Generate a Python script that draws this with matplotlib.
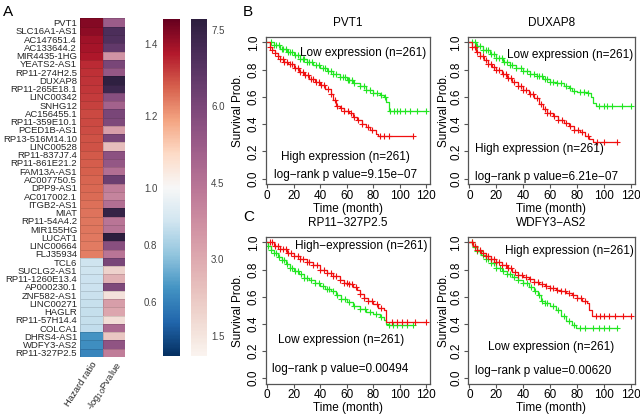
import numpy as np
import matplotlib
matplotlib.use("Agg")
import matplotlib.pyplot as plt
from matplotlib.colors import TwoSlopeNorm, Normalize
from matplotlib.cm import ScalarMappable
import seaborn as sns

plt.rcParams['font.family'] = ['Liberation Sans', 'DejaVu Sans']

# ---- panel A data ----
genes = ["PVT1", "SLC16A1-AS1", "AC147651.4", "AC133644.2", "MIR4435-1HG", "YEATS2-AS1",
         "RP11-274H2.5", "DUXAP8", "RP11-265E18.1", "LINC00342", "SNHG12", "AC156455.1",
         "RP11-359E10.1", "PCED1B-AS1", "RP13-516M14.10", "LINC00528", "RP11-837J7.4",
         "RP11-861E21.2", "FAM13A-AS1", "AC007750.5", "DPP9-AS1", "AC017002.1", "ITGB2-AS1",
         "MIAT", "RP11-54A4.2", "MIR155HG", "LUCAT1", "LINC00664", "FLJ35934", "TCL6",
         "SUCLG2-AS1", "RP11-1260E13.4", "AP000230.1", "ZNF582-AS1", "LINC00271", "HAGLR",
         "RP11-57H14.4", "COLCA1", "DHRS4-AS1", "WDFY3-AS2", "RP11-327P2.5"]
hazard_ratio = [1.43, 1.42, 1.40, 1.39, 1.38, 1.35, 1.345, 1.34, 1.335, 1.33, 1.32, 1.31,
                1.31, 1.305, 1.30, 1.30, 1.29, 1.285, 1.28, 1.275, 1.27, 1.265, 1.26,
                1.255, 1.25, 1.25, 1.248, 1.245, 1.24, 0.88, 0.88, 0.875, 0.875, 0.87,
                0.865, 0.86, 0.86, 0.855, 0.646, 0.634, 0.61]
neg_log_p = [5.2, 7.0, 6.9, 6.5, 3.6, 6.0, 5.4, 7.6, 7.3, 5.7, 5.0, 6.0, 5.9, 3.3, 6.0,
             2.5, 5.6, 5.4, 4.6, 6.3, 4.2, 4.0, 4.6, 7.5, 4.4, 4.5, 7.8, 5.7, 4.4, 6.0,
             2.0, 2.8, 5.9, 1.6, 3.3, 3.1, 1.7, 4.8, 2.3, 5.5, 4.2]
hr_ticks = [0.6, 0.8, 1.0, 1.2, 1.4]
p_ticks = [1.5, 3.0, 4.5, 6.0, 7.5]

# ---- panels B/C data: KM step knots (month, survival) and censor times ----
pvt1_low_t = [0, 5, 10, 15, 20, 25, 30, 35, 40, 45, 50, 55, 60, 65, 70, 75, 80, 85, 88, 90, 92]
pvt1_low_s = [1.0, .98, .955, .93, .905, .88, .855, .835, .81, .79, .77, .745, .725, .70, .68, .65, .63, .615, .60, .56, .50]
pvt1_low_c = [3, 5, 7, 9, 11, 12, 14, 16, 17, 19, 21, 23, 25, 27, 28, 30, 32, 34, 37, 39, 42, 44, 46,
              48, 50, 52, 55, 57, 59, 61, 62, 64, 66, 70, 73, 75, 78, 80, 83, 86, 89, 93, 96, 98,
              100, 104, 108, 113, 120]
pvt1_high_t = [0, 2, 4, 6, 8, 10, 13, 16, 20, 24, 28, 32, 36, 40, 44, 48, 50, 52, 55, 58, 62, 65, 68, 72, 75, 78, 82, 84]
pvt1_high_s = [1.0, .97, .945, .92, .90, .88, .86, .84, .81, .785, .76, .735, .71, .685, .655, .62, .58, .535, .52, .50, .48, .45, .43, .40, .38, .36, .33, .315]
pvt1_high_c = [2, 4, 6, 8, 10, 12, 13, 15, 17, 19, 21, 23, 25, 27, 29, 31, 33, 35, 37, 39, 41, 43, 46,
               48, 51, 53, 56, 58, 61, 63, 66, 69, 72, 76, 79, 85, 88, 92, 110]

duxap8_low_t = [0, 5, 10, 15, 20, 25, 30, 35, 40, 45, 50, 55, 60, 65, 70, 74, 76, 80, 88, 90, 92, 94]
duxap8_low_s = [1.0, .975, .945, .915, .885, .86, .835, .815, .79, .77, .75, .73, .71, .70, .68, .665, .64, .635, .625, .60, .555, .535]
duxap8_low_c = [2, 4, 6, 8, 10, 12, 14, 16, 18, 20, 22, 24, 26, 28, 30, 32, 35, 38, 40, 43, 45, 48,
                50, 52, 54, 56, 58, 60, 62, 65, 68, 72, 75, 78, 82, 85, 88, 96, 100, 102, 106, 113, 120]
duxap8_high_t = [0, 2, 5, 8, 11, 14, 17, 20, 24, 28, 32, 36, 40, 44, 48, 52, 55, 58, 62, 66, 70, 74, 78, 82, 86, 89, 92]
duxap8_high_s = [1.0, .97, .93, .90, .87, .845, .82, .80, .77, .74, .71, .68, .65, .62, .59, .55, .51, .48, .46, .43, .41, .385, .36, .34, .31, .29, .27]
duxap8_high_c = [2, 4, 6, 8, 10, 12, 14, 16, 18, 20, 22, 25, 27, 29, 31, 33, 36, 38, 40, 42, 45, 47,
                 50, 53, 56, 58, 60, 63, 66, 69, 72, 75, 78, 81, 84, 88, 95, 100, 110]

rp11_high_t = [0, 5, 10, 15, 20, 25, 30, 35, 40, 45, 50, 55, 58, 62, 65, 68, 70, 73, 76, 80, 84, 88, 90]
rp11_high_s = [1.0, .975, .95, .925, .90, .875, .855, .83, .80, .775, .75, .72, .70, .69, .67, .65, .62, .59, .565, .545, .52, .50, .41]
rp11_high_c = [2, 4, 6, 8, 10, 12, 14, 16, 18, 20, 23, 25, 27, 30, 32, 35, 38, 40, 43, 45, 48, 50,
               52, 55, 58, 60, 62, 64, 67, 70, 73, 76, 79, 83, 86, 94, 98, 102, 106, 112, 120]
rp11_low_t = [0, 1, 3, 5, 8, 11, 14, 17, 20, 24, 28, 32, 36, 40, 44, 48, 52, 56, 60, 65, 70, 75, 80, 85, 88, 90, 92]
rp11_low_s = [1.0, .97, .945, .925, .895, .87, .84, .815, .79, .765, .74, .72, .70, .68, .66, .64, .61, .58, .56, .535, .51, .49, .47, .45, .43, .40, .39]
rp11_low_c = [1, 3, 5, 7, 9, 11, 13, 15, 17, 19, 21, 23, 26, 28, 30, 33, 36, 39, 42, 45, 47, 50, 53,
              56, 59, 62, 66, 70, 74, 78, 82, 86, 92, 95, 98, 102, 106, 110]

wdfy3_high_t = [0, 3, 6, 9, 12, 16, 20, 24, 28, 32, 36, 40, 44, 48, 52, 56, 60, 64, 68, 72, 76, 80, 84, 87, 89, 91]
wdfy3_high_s = [1.0, .97, .945, .92, .90, .875, .855, .835, .81, .785, .76, .745, .73, .71, .695, .68, .665, .65, .64, .625, .61, .59, .565, .55, .50, .46]
wdfy3_high_c = [2, 4, 6, 8, 10, 12, 14, 16, 18, 20, 22, 24, 27, 29, 31, 34, 36, 39, 42, 45, 48, 51,
                54, 57, 60, 62, 65, 68, 71, 74, 77, 80, 83, 86, 94, 97, 100, 104, 108, 114, 120]
wdfy3_low_t = [0, 3, 6, 9, 12, 16, 20, 24, 28, 32, 36, 40, 44, 48, 51, 53, 56, 60, 64, 68, 72, 76, 79]
wdfy3_low_s = [1.0, .965, .935, .905, .88, .85, .815, .79, .765, .745, .72, .70, .67, .64, .61, .57, .55, .53, .50, .46, .42, .39, .37]
wdfy3_low_c = [2, 4, 6, 8, 10, 12, 14, 16, 18, 20, 23, 25, 28, 30, 33, 36, 40, 43, 46, 49, 52, 54,
               56, 58, 62, 66, 70, 74, 78, 82, 86, 92, 96, 100, 104, 110]

RED = '#f01010'
GREEN = '#22e622'

W, H = 640, 416


def box(l, t, r, b):
    return [l / W, 1 - b / H, (r - l) / W, (b - t) / H]


def km_curve(ax, t, s, cens, color):
    t = list(t) + [max(cens)]
    s = list(s) + [s[-1]]
    ax.step(t, s, where='post', color=color, lw=0.9)
    idx = np.searchsorted(np.array(t), np.array(cens), side='right') - 1
    ax.plot(cens, np.array(s)[idx], ls='none', marker='+', ms=5, mew=0.8, color=color)


def km_panel(ax, title, curves, texts, ylab_off):
    for t, s, c, col in curves:
        km_curve(ax, t, s, c, col)
    for x, y, txt, ha in texts:
        ax.text(x, y, txt, ha=ha, va='center', fontsize=8.5)
    ax.set_xlim(-1, 123)
    ax.set_ylim(-0.04, 1.04)
    ax.set_xticks(range(0, 121, 20))
    ax.set_yticks(np.arange(0, 1.01, 0.2), [f"{v:.1f}" for v in np.arange(0, 1.01, 0.2)],
                  rotation=90, va='center')
    ax.tick_params(length=3, width=0.8, color='#555555', labelsize=8.5, pad=1.2)
    for sp in ax.spines.values():
        sp.set_color('#555555')
        sp.set_linewidth(0.9)
    ax.set_title(title, fontsize=8.5, pad=8)
    ax.set_xlabel('Time (month)', fontsize=8.5, labelpad=0.5)
    ax.set_ylabel('Survival Prob.', fontsize=8.5)
    ax.yaxis.set_label_coords(ylab_off, 0.5)


fig = plt.figure(figsize=(6.4, 4.16), dpi=100)

# ---- heatmap ----
n = len(genes)
hr_norm = TwoSlopeNorm(vcenter=1.0, vmin=0.41, vmax=1.47)
p_cmap = sns.cubehelix_palette(light=0.96, dark=0.15, as_cmap=True)
p_norm = Normalize(vmin=1.1, vmax=7.7)

ax = fig.add_axes(box(80, 18.5, 125, 357))
ax.pcolormesh([0, 1], np.arange(n + 1), np.array(hazard_ratio)[:, None], cmap='RdBu_r',
              norm=hr_norm, edgecolors=(0, 0, 0, 0.12), linewidth=0.4)
ax.pcolormesh([1, 2], np.arange(n + 1), np.array(neg_log_p)[:, None], cmap=p_cmap,
              norm=p_norm, edgecolors=(0, 0, 0, 0.12), linewidth=0.4)
ax.set_xlim(0, 2)
ax.set_ylim(n, 0)
ax.set_yticks(np.arange(n) + 0.5, genes, fontsize=6.8, color='#262626')
ax.set_xticks([0.5, 1.5], ['Hazard ratio', '-log$_{10}$Pvalue'], rotation=57, ha='right',
              rotation_mode='anchor', fontsize=6.8, color='#262626')
ax.tick_params(length=0, pad=2)
for sp in ax.spines.values():
    sp.set_visible(False)

cax1 = fig.add_axes(box(163, 19.3, 180, 356))
cb1 = fig.colorbar(ScalarMappable(norm=hr_norm, cmap='RdBu_r'), cax=cax1, ticks=hr_ticks)
cb1.outline.set_visible(False)
cax1.yaxis.set_ticks_position('left')
cax1.set_yticklabels([f"{v:.1f}" for v in hr_ticks])
cax1.tick_params(length=0, labelsize=7, labelcolor='#444444', pad=4)

cax2 = fig.add_axes(box(191, 19.3, 207, 356))
cb2 = fig.colorbar(ScalarMappable(norm=p_norm, cmap=p_cmap), cax=cax2, ticks=p_ticks)
cb2.outline.set_visible(False)
cax2.set_yticklabels([f"{v:.1f}" for v in p_ticks])
cax2.tick_params(length=0, labelsize=7, labelcolor='#444444', pad=3)

# ---- KM panels ----
ax_b1 = fig.add_axes(box(265.7, 37, 430, 184))
km_panel(ax_b1, 'PVT1',
         [(pvt1_low_t, pvt1_low_s, pvt1_low_c, GREEN), (pvt1_high_t, pvt1_high_s, pvt1_high_c, RED)],
         [(120, 0.925, 'Low expression (n=261)', 'right'),
          (59, 0.16, 'High expression (n=261)', 'center'),
          (59, 0.025, 'log\u2212rank p value=9.15e\u221207', 'center')], -0.13)

ax_b2 = fig.add_axes(box(468, 37, 635, 184))
km_panel(ax_b2, 'DUXAP8',
         [(duxap8_low_t, duxap8_low_s, duxap8_low_c, GREEN), (duxap8_high_t, duxap8_high_s, duxap8_high_c, RED)],
         [(122, 0.905, 'Low expression (n=261)', 'right'),
          (4, 0.22, 'High expression (n=261)', 'left'),
          (4, 0.015, 'log\u2212rank p value=6.21e\u221207', 'left')], -0.108)

ax_c1 = fig.add_axes(box(265.7, 237, 430, 383.5))
km_panel(ax_c1, 'RP11\u2212327P2.5',
         [(rp11_low_t, rp11_low_s, rp11_low_c, GREEN), (rp11_high_t, rp11_high_s, rp11_high_c, RED)],
         [(121, 0.975, 'High\u2212expression (n=261)', 'right'),
          (8, 0.28, 'Low expression (n=261)', 'left'),
          (4, 0.07, 'log\u2212rank p value=0.00494', 'left')], -0.13)

ax_c2 = fig.add_axes(box(468, 237, 635, 383.5))
km_panel(ax_c2, 'WDFY3\u2212AS2',
         [(wdfy3_low_t, wdfy3_low_s, wdfy3_low_c, GREEN), (wdfy3_high_t, wdfy3_high_s, wdfy3_high_c, RED)],
         [(122, 0.935, 'High expression (n=261)', 'right'),
          (14, 0.23, 'Low expression (n=261)', 'left'),
          (4, 0.05, 'log\u2212rank p value=0.00620', 'left')], -0.108)

# panel letters
for x, y, lab in [(3, 5, 'A'), (243, 5, 'B'), (243, 210, 'C')]:
    fig.text(x / W, 1 - y / H, lab, fontsize=11, ha='left', va='top')

fig.savefig('out.png', dpi=100)
plt.close(fig)
